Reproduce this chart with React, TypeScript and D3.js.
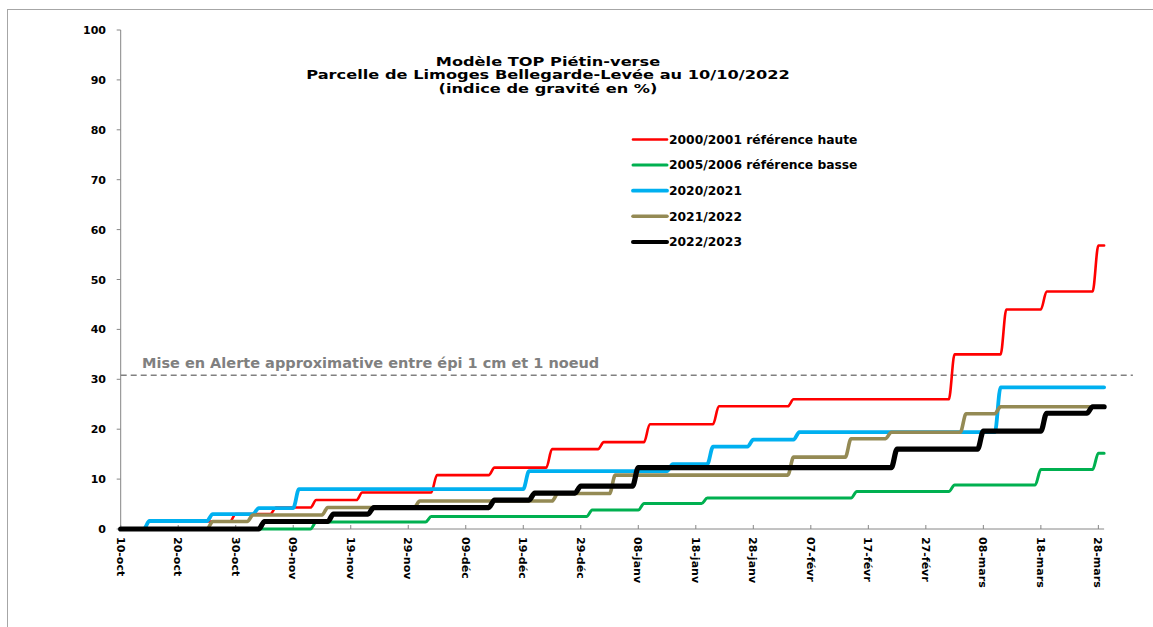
import React from 'react';
import * as d3 from 'd3';

// days counted from 10-oct, ticks every 10 days
const TICK_LABELS = [
  '10-oct', '20-oct', '30-oct', '09-nov', '19-nov', '29-nov', '09-déc', '19-déc', '29-déc',
  '08-janv', '18-janv', '28-janv', '07-févr', '17-févr', '27-févr', '08-mars', '18-mars', '28-mars',
];
const Y_TICKS = [0, 10, 20, 30, 40, 50, 60, 70, 80, 90, 100];
const END_DAY = 171;

// [day the step starts, new value]
const RED_STEPS: [number, number][] = [
  [0, 0], [4, 1.5], [19, 3.0], [26, 4.3], [33, 5.8], [41, 7.3], [54, 10.8], [64, 12.3],
  [74, 16.0], [83, 17.4], [91, 21.0], [103, 24.6], [116, 26.0], [144, 35.0], [153, 44.0],
  [160, 47.6], [169, 56.8],
];
const GREEN_STEPS: [number, number][] = [
  [0, 0], [33, 1.4], [53, 2.5], [81, 3.8], [90, 5.1], [101, 6.2], [127, 7.5], [144, 8.8],
  [159, 11.9], [169, 15.2],
];
const BLUE_STEPS: [number, number][] = [
  [0, 0], [4, 1.6], [15, 3.0], [23, 4.2], [30, 8.0], [70, 11.6], [95, 13.0], [102, 16.5],
  [109, 17.9], [117, 19.4], [152, 28.4],
];
const OLIVE_STEPS: [number, number][] = [
  [0, 0], [15, 1.5], [22, 2.8], [35, 4.3], [51, 5.6], [75, 7.1], [85, 10.8], [116, 14.4],
  [126, 18.1], [133, 19.4], [146, 23.1], [152, 24.5],
];
const BLACK_STEPS: [number, number][] = [
  [0, 0], [24, 1.5], [36, 3.0], [43, 4.3], [64, 5.8], [71, 7.2], [79, 8.6], [89, 12.3],
  [134, 16.0], [149, 19.6], [160, 23.2], [168, 24.5],
];

const ALERT_LEVEL = 30.8;
const ALERT_END_DAY = 176;

const TITLE_LINES = [
  'Modèle TOP Piétin-verse',
  'Parcelle de Limoges Bellegarde-Levée au 10/10/2022',
  '(indice de gravité en %)',
];

const SERIES = [
  { name: '2000/2001 référence haute', steps: RED_STEPS, color: '#ff0000', width: 2.6 },
  { name: '2005/2006 référence basse', steps: GREEN_STEPS, color: '#00b050', width: 3 },
  { name: '2020/2021', steps: BLUE_STEPS, color: '#00b0f0', width: 3.8 },
  { name: '2021/2022', steps: OLIVE_STEPS, color: '#948a54', width: 3.6 },
  { name: '2022/2023', steps: BLACK_STEPS, color: '#000000', width: 5.2 },
];

const W = 1153;
const H = 627;
const FONT = '"DejaVu Sans", Verdana, sans-serif';

// each step rises over one day
function stepPoints(steps: [number, number][]): [number, number][] {
  const pts: [number, number][] = [[steps[0][0], steps[0][1]]];
  for (let i = 1; i < steps.length; i++) {
    pts.push([steps[i][0], steps[i - 1][1]]);
    pts.push([steps[i][0] + 1, steps[i][1]]);
  }
  pts.push([END_DAY, steps[steps.length - 1][1]]);
  return pts;
}

export default function App() {
  const x = d3.scaleLinear().domain([0, END_DAY]).range([120.7, 120.7 + END_DAY * 5.751]);
  const y = d3.scaleLinear().domain([0, 100]).range([529, 30]);

  const line = d3.line<[number, number]>()
    .x(d => x(d[0]))
    .y(d => y(d[1]))
    .curve(d3.curveMonotoneX);

  const axisColor = '#868686';
  const legendX = 633;
  const legendY0 = 139.5;
  const legendStep = 25.6;

  return (
    <svg width={W} height={H} style={{ position: 'absolute', left: 0, top: 0, background: '#fff' }}
      fontFamily={FONT}>
      <rect x={7.5} y={9.5} width={1170} height={660} fill="#fff" stroke="#a6a6a6" />

      {/* title */}
      <g fontWeight="bold" fontSize={16.2} textAnchor="middle" fill="#000">
        {TITLE_LINES.map((t, i) => (
          <text key={t} transform={`translate(548,${66 + i * 13.3}) scale(1,0.74)`}>{t}</text>
        ))}
      </g>

      {/* y axis */}
      <line x1={x(0)} x2={x(0)} y1={y(100)} y2={y(0)} stroke={axisColor} />
      {Y_TICKS.map(v => (
        <g key={v}>
          <line x1={x(0) - 4} x2={x(0)} y1={y(v)} y2={y(v)} stroke={axisColor} />
          <text x={106} y={y(v) + 4} textAnchor="end" fontSize={11} fontWeight="bold">{v}</text>
        </g>
      ))}

      {/* x axis */}
      <line x1={x(0)} x2={x(END_DAY)} y1={y(0)} y2={y(0)} stroke={axisColor} />
      {TICK_LABELS.map((t, i) => (
        <g key={t}>
          <line x1={x(i * 10)} x2={x(i * 10)} y1={y(0) - 4} y2={y(0)} stroke={axisColor} />
          <text transform={`translate(${x(i * 10)},537) rotate(90)`} dy="0.36em" fontSize={11}
            fontWeight="bold">{t}</text>
        </g>
      ))}

      {/* alert threshold */}
      <line x1={x(0)} x2={x(ALERT_END_DAY)} y1={y(ALERT_LEVEL)} y2={y(ALERT_LEVEL)}
        stroke="#808080" strokeWidth={1.6} strokeDasharray="6,4" />
      <text x={142} y={368} fontSize={14.5} fontWeight="bold" fill="#808080">
        Mise en Alerte approximative entre épi 1 cm et 1 noeud
      </text>

      {/* series */}
      {SERIES.map(s => (
        <path key={s.name} d={line(stepPoints(s.steps)) || ''} fill="none" stroke={s.color}
          strokeWidth={s.width} strokeLinejoin="round" strokeLinecap="round" />
      ))}

      {/* legend */}
      {SERIES.map((s, i) => (
        <g key={s.name} transform={`translate(${legendX},${legendY0 + i * legendStep})`}>
          <line x1={0} x2={34} y1={0} y2={0} stroke={s.color} strokeWidth={Math.min(s.width, 4)}
            strokeLinecap="round" />
          <text x={36} y={4.3} fontSize={12.3} fontWeight="bold">{s.name}</text>
        </g>
      ))}
    </svg>
  );
}
